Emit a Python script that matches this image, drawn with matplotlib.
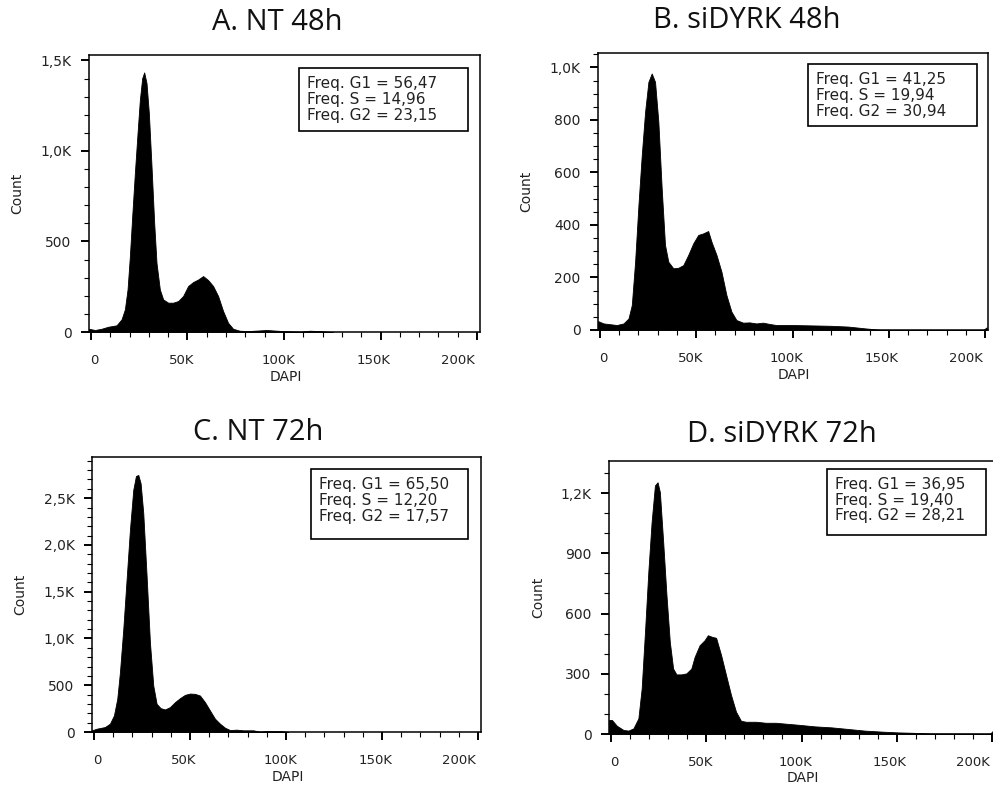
import matplotlib
matplotlib.use("Agg")
import matplotlib.pyplot as plt
from matplotlib.ticker import FixedLocator, FixedFormatter, MultipleLocator
from matplotlib.patches import Rectangle
from matplotlib.transforms import ScaledTranslation

plt.rcParams['font.family'] = ['DejaVu Sans']

# --- datos de los histogramas (DAPI vs Count) ---
titulos = ["A. NT 48h", "B. siDYRK 48h", "C. NT 72h", "D. siDYRK 72h"]

freq_g1 = ["56,47", "41,25", "65,50", "36,95"]
freq_s = ["14,96", "19,94", "12,20", "19,40"]
freq_g2 = ["23,15", "30,94", "17,57", "28,21"]

dapi_a = [-1000, 2070, 5520, 8960, 13270, 15860, 17580, 18960, 20170, 21380, 22760,
          24140, 25340, 26550, 27580, 28790, 30000, 31380, 32760, 33960, 35690,
          37410, 40000, 42580, 45170, 47750, 50340, 52930, 55510, 58100, 60680,
          63270, 65860, 68440, 71030, 73610, 77060, 81370, 91000, 99600, 108300,
          113400, 118600, 125500]
count_a = [18, 11, 18, 29, 37, 70, 125, 235, 419, 640, 879,
           1099, 1283, 1402, 1434, 1375, 1209, 915, 603, 382, 235,
           180, 162, 162, 171, 199, 254, 276, 290, 309, 287,
           254, 199, 116, 51, 18, 7, 5, 11, 5, 2,
           7, 5, 0]

dapi_b = [-1000, 1900, 5340, 8790, 12240, 14830, 16550, 18270, 20000, 21720, 23450,
          25170, 26890, 28620, 30340, 32070, 33790, 35510, 38100, 40690, 43270,
          45860, 48440, 51030, 53620, 56200, 57930, 60510, 63100, 65680, 68270,
          70860, 74300, 77750, 81200, 84650, 88100, 91540, 100000, 120000, 129000,
          138000, 141000, 146000, 199000, 200800]
count_b = [34, 25, 22, 19, 25, 44, 95, 260, 476, 666, 831,
           945, 977, 945, 793, 539, 324, 260, 235, 237, 247,
           286, 330, 362, 368, 377, 336, 286, 222, 133, 70,
           38, 28, 29, 25, 28, 23, 19, 19, 16, 13,
           6, 4, 0, 0, 10]

dapi_c = [-1000, 1390, 5730, 8330, 10420, 12150, 13540, 15280, 17010, 18750, 20480,
          21870, 23090, 24300, 25690, 27430, 29160, 30900, 32640, 34720, 36980,
          39580, 42180, 44790, 47390, 50000, 52600, 55200, 57810, 60410, 63020,
          65620, 68230, 70830, 74300, 77770, 82980, 86450, 90000, 98000, 101000]
count_c = [18, 35, 53, 89, 177, 355, 638, 1099, 1631, 2163, 2589,
           2737, 2748, 2660, 2340, 1667, 957, 496, 301, 255, 241,
           266, 319, 362, 397, 411, 408, 390, 319, 230, 142,
           89, 46, 21, 25, 18, 18, 4, 10, 8, 0]

dapi_d = [-1000, 520, 3120, 6600, 9200, 11800, 14410, 16140, 17880, 19620, 21350,
          23090, 24480, 25690, 27430, 29160, 30900, 32640, 34370, 36980, 39580,
          42180, 43920, 46520, 49130, 50860, 53120, 55200, 57810, 60410, 63020,
          65620, 68230, 70830, 76040, 81240, 86450, 89930, 98400, 107000, 115800,
          124500, 133000, 141800, 150500, 161800, 167900, 196500, 199000, 200800]
count_d = [70, 70, 41, 20, 17, 28, 78, 227, 509, 807, 1056,
           1238, 1254, 1205, 956, 691, 459, 326, 297, 297, 302,
           326, 384, 442, 467, 492, 484, 479, 393, 293, 194,
           111, 66, 61, 61, 56, 56, 53, 46, 38, 33,
           25, 17, 12, 8, 5, 2, 1, 2, 20]

x_ticks = [0, 50000, 100000, 150000, 200000]
x_etiquetas = ["0", "50K", "100K", "150K", "200K"]

y_ticks = [[0, 500, 1000, 1500],
           [0, 200, 400, 600, 800, 1000],
           [0, 500, 1000, 1500, 2000, 2500],
           [0, 300, 600, 900, 1200]]
y_etiquetas = [["0", "500", "1,0K", "1,5K"],
               ["0", "200", "400", "600", "800", "1,0K"],
               ["0", "500", "1,0K", "1,5K", "2,0K", "2,5K"],
               ["0", "300", "600", "900", "1,2K"]]

series = [(dapi_a, count_a), (dapi_b, count_b), (dapi_c, count_c), (dapi_d, count_d)]

# --- disposicion (pixeles de la figura 993x786) ---
W, H = 993, 786
# izquierda, derecha, arriba, abajo de cada recuadro
cajas = [(89, 480, 55, 332), (598, 988, 53, 330), (92, 481, 457, 732), (609, 995, 461, 734)]
y_max = [1530, 1055, 2940, 1360]
y_menor = [100, 50, 100, 100]
pos_titulo = [(277, 22), (747, 20), (258, 433), (782, 435)]
# recuadro de frecuencias en fraccion de ejes: x0, x1, y0, y1
leyendas = [(0.537, 0.969, 0.726, 0.953), (0.538, 0.972, 0.736, 0.960),
            (0.563, 0.967, 0.702, 0.956), (0.565, 0.977, 0.729, 0.971)]
# desplazamiento horizontal (px) de las etiquetas del eje x
desp_x = [3, -6, -6, -7, -2]

fig = plt.figure(figsize=(W / 100, H / 100), dpi=100)

for i in range(4):
    izq, der, arr, aba = cajas[i]
    ax = fig.add_axes([izq / W, 1 - aba / H, (der - izq) / W, (aba - arr) / H])
    x, y = series[i]
    ax.fill_between(x, y, 0, color="black", linewidth=0.6)

    ax.set_xlim(-1000, 201500)
    ax.set_ylim(0, y_max[i])

    ax.xaxis.set_major_locator(FixedLocator(x_ticks))
    ax.xaxis.set_major_formatter(FixedFormatter(x_etiquetas))
    ax.xaxis.set_minor_locator(MultipleLocator(10000))
    ax.yaxis.set_major_locator(FixedLocator(y_ticks[i]))
    ax.yaxis.set_major_formatter(FixedFormatter(y_etiquetas[i]))
    ax.yaxis.set_minor_locator(MultipleLocator(y_menor[i]))

    ax.tick_params(which="major", direction="out", length=6, width=1.4,
                   labelsize=10, labelcolor="#222222")
    ax.tick_params(which="minor", direction="out", length=3.5, width=0.8)
    ax.tick_params(axis="x", which="major", pad=10, labelsize=9.5)
    ax.tick_params(axis="y", which="major", pad=6.5)
    for s in ax.spines.values():
        s.set_linewidth(1.1)

    for k, lab in enumerate(ax.get_xticklabels()):
        if k == len(x_ticks) - 1:
            lab.set_horizontalalignment("right")
        lab.set_transform(lab.get_transform() +
                          ScaledTranslation(desp_x[k] / 100, 0, fig.dpi_scale_trans))

    ax.set_xlabel("DAPI", fontsize=10, color="#222222", va="center")
    ax.xaxis.set_label_coords(0.503, -0.163)
    ax.set_ylabel("Count", fontsize=10, color="#222222", va="center")
    ax.yaxis.set_label_coords(-0.184, 0.5)

    # recuadro con las frecuencias de cada fase
    x0, x1, y0, y1 = leyendas[i]
    ax.add_patch(Rectangle((x0, y0), x1 - x0, y1 - y0, transform=ax.transAxes,
                           facecolor="white", edgecolor="black", linewidth=1.2, zorder=5))
    texto = "Freq. G1 = %s\nFreq. S = %s\nFreq. G2 = %s" % (freq_g1[i], freq_s[i], freq_g2[i])
    ax.text(x0 + 0.02, y1 - 0.03, texto, transform=ax.transAxes, ha="left", va="top",
            fontsize=11, color="#222222", linespacing=1.05, zorder=6)

    tx, ty = pos_titulo[i]
    fig.text(tx / W, 1 - ty / H, titulos[i], ha="center", va="center",
             fontsize=21, color="#111111", family=["Open Sans", "DejaVu Sans"])

fig.savefig("out.png", dpi=100)
